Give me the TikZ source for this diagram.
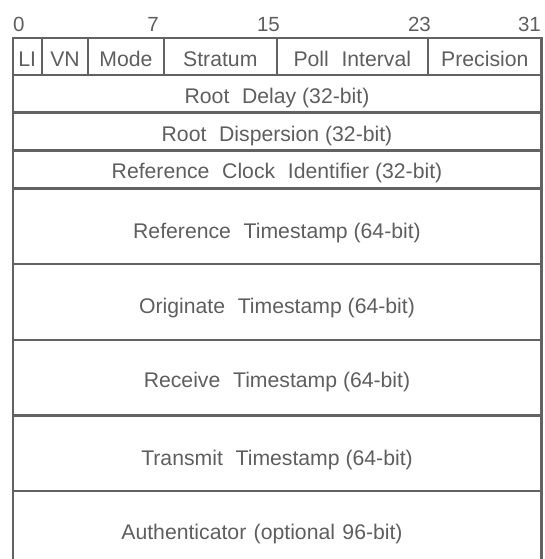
\documentclass[tikz,border=0pt]{standalone}
\usepackage{fontspec}
\setmainfont{Liberation Sans}
\definecolor{linec}{HTML}{626262}
\definecolor{txtc}{HTML}{5E5E5E}
\newcommand{\wsp}{\hspace{0.6em}}
\newcommand{\nsp}{\hspace{0.35em}}
\begin{document}
\begin{tikzpicture}[x=1pt,y=-1pt,
  grid/.style={draw=linec,line width=2.4pt},
  lbl/.style={text=txtc,font=\fontsize{21.2}{25}\selectfont,anchor=base,inner sep=0pt},
  bitnum/.style={text=txtc,font=\fontsize{20.5}{24}\selectfont,inner sep=0pt}]
\useasboundingbox (0,0) rectangle (544,559);
% outer frame (open at the bottom)
\draw[grid] (12.7,559) -- (12.7,38) -- (541.5,38) -- (541.5,559);
% row separators
\foreach \yy in {75,112.5,150.5,188.5,264,340,415.5,491}
  \draw[grid] (12.7,\yy) -- (541.5,\yy);
% header field separators
\foreach \xx in {42,88,164,276.7,428}
  \draw[grid] (\xx,38) -- (\xx,75);
% bit numbers
\node[bitnum,anchor=base west] (b0) at (13,32) {0};
\node[bitnum,anchor=base east] (b7) at (159,32) {7};
\node[bitnum,anchor=base east] (b15) at (280,32) {15};
\node[bitnum,anchor=base east] (b23) at (431,32) {23};
\node[bitnum,anchor=base east] (b31) at (541,32) {31};
% header fields
\node[lbl] (li) at (27.3,67) {LI};
\node[lbl] (vn) at (65,67) {VN};
\node[lbl] (mode) at (126,67) {Mode};
\node[lbl] (stratum) at (220.3,67) {Stratum};
\node[lbl] (poll) at (352.3,67) {Poll\wsp Interval};
\node[lbl] (prec) at (484.8,67) {Precision};
% full-width fields
\node[lbl] (rdelay) at (277,103) {Root\wsp Delay (32-bit)};
\node[lbl] (rdisp) at (277,141) {Root\wsp Dispersion (32-bit)};
\node[lbl] (refid) at (277,178.5) {Reference\wsp Clock\wsp Identifier (32-bit)};
\node[lbl] (refts) at (277,238) {Reference\wsp Timestamp (64-bit)};
\node[lbl] (orig) at (277,313.5) {Originate\wsp Timestamp (64-bit)};
\node[lbl] (recv) at (277,387.5) {Receive\wsp Timestamp (64-bit)};
\node[lbl] (xmit) at (277,465.5) {Transmit\wsp Timestamp (64-bit)};
\node[lbl] (auth) at (262,539) {Authenticator\nsp (optional\nsp 96-bit)};
\end{tikzpicture}
\end{document}
